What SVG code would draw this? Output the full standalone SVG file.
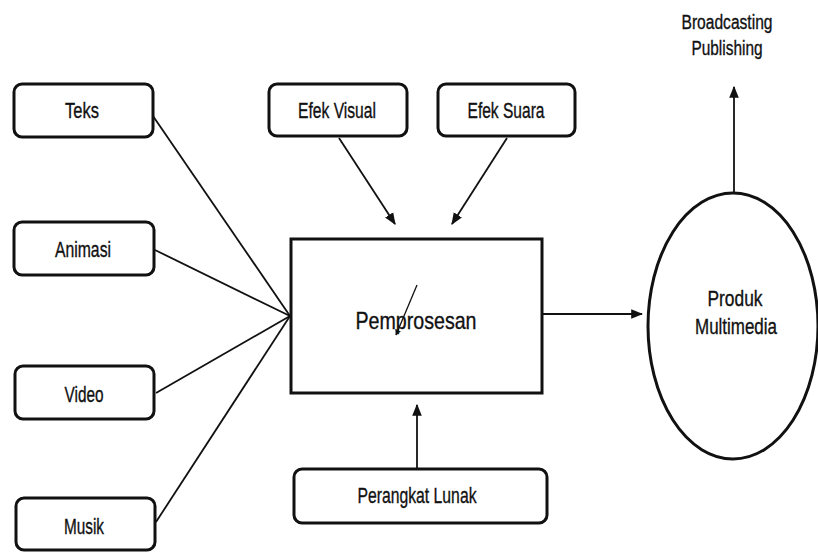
<svg xmlns="http://www.w3.org/2000/svg" width="818" height="552" viewBox="0 0 818 552">
<style>
.box{fill:#fff;stroke:#111;stroke-width:3}
.lbl{font-family:"Liberation Sans",Arial,sans-serif;font-size:22.5px;fill:#111;stroke:#111;stroke-width:0.35;text-anchor:middle}
.big{font-size:24px}
.sm{font-size:20px}
.ln{stroke:#111;stroke-width:1.8;fill:none}
</style>
<defs>
<marker id="ah" viewBox="0 0 10 10" refX="9" refY="5" markerWidth="6" markerHeight="6" orient="auto" markerUnits="userSpaceOnUse">
<path d="M0,0 L10,5 L0,10 z" fill="#111"/>
</marker>
<marker id="ahb" viewBox="0 0 10 10" refX="9" refY="5" markerWidth="12" markerHeight="12" orient="auto" markerUnits="userSpaceOnUse">
<path d="M0,1 L10,5 L0,9 z" fill="#111"/>
</marker>
</defs>
<rect width="818" height="552" fill="#fff"/>
<g id="connectors">
<line class="ln" x1="153" y1="116" x2="290" y2="316"/>
<line class="ln" x1="155" y1="250" x2="290" y2="316"/>
<line class="ln" x1="156" y1="393" x2="290" y2="316"/>
<line class="ln" x1="156" y1="522" x2="290" y2="316"/>
<line class="ln" x1="339" y1="138" x2="395" y2="224" marker-end="url(#ahb)"/>
<line class="ln" x1="507" y1="138" x2="452" y2="224" marker-end="url(#ahb)"/>
<line class="ln" x1="417" y1="469" x2="417" y2="405" marker-end="url(#ahb)"/>
<line class="ln" x1="542" y1="314" x2="642" y2="314" marker-end="url(#ahb)"/>
<line class="ln" x1="734" y1="193" x2="734" y2="87" marker-end="url(#ahb)"/>
</g>
<g id="teks"><rect class="box" x="14" y="84" width="139" height="53" rx="8"/><text class="lbl" x="82" y="118" textLength="34" lengthAdjust="spacingAndGlyphs">Teks</text></g>
<g id="animasi"><rect class="box" x="14" y="222" width="140" height="53" rx="8"/><text class="lbl" x="83" y="257" textLength="56" lengthAdjust="spacingAndGlyphs">Animasi</text></g>
<g id="video"><rect class="box" x="15" y="366" width="139" height="53" rx="8"/><text class="lbl" x="84" y="402" textLength="39" lengthAdjust="spacingAndGlyphs">Video</text></g>
<g id="musik"><rect class="box" x="16" y="498" width="139" height="52" rx="8"/><text class="lbl" x="84" y="534" textLength="40" lengthAdjust="spacingAndGlyphs">Musik</text></g>
<g id="efek-visual"><rect class="box" x="269" y="84" width="138" height="52" rx="8"/><text class="lbl" x="337" y="118" textLength="78" lengthAdjust="spacingAndGlyphs">Efek Visual</text></g>
<g id="efek-suara"><rect class="box" x="438" y="84" width="137" height="52" rx="8"/><text class="lbl" x="506" y="118" textLength="77" lengthAdjust="spacingAndGlyphs">Efek Suara</text></g>
<g id="pemprosesan"><rect class="box" x="291" y="239" width="251" height="154"/><text class="lbl big" x="416" y="329" textLength="121" lengthAdjust="spacingAndGlyphs">Pemprosesan</text>
<line x1="417" y1="285" x2="396" y2="335" stroke="#111" stroke-width="1.3" marker-end="url(#ah)"/></g>
<g id="perangkat-lunak"><rect class="box" x="294" y="469" width="253" height="54" rx="8"/><text class="lbl" x="417" y="503" textLength="119" lengthAdjust="spacingAndGlyphs">Perangkat Lunak</text></g>
<g id="produk"><ellipse class="box" cx="733" cy="326" rx="85" ry="133"/><text class="lbl" x="735" y="306" textLength="55" lengthAdjust="spacingAndGlyphs">Produk</text><text class="lbl" x="736" y="334" textLength="82" lengthAdjust="spacingAndGlyphs">Multimedia</text></g>
<g id="broadcasting"><text class="lbl sm" x="727" y="29" textLength="91" lengthAdjust="spacingAndGlyphs">Broadcasting</text><text class="lbl sm" x="727" y="55" textLength="71" lengthAdjust="spacingAndGlyphs">Publishing</text></g>
</svg>
